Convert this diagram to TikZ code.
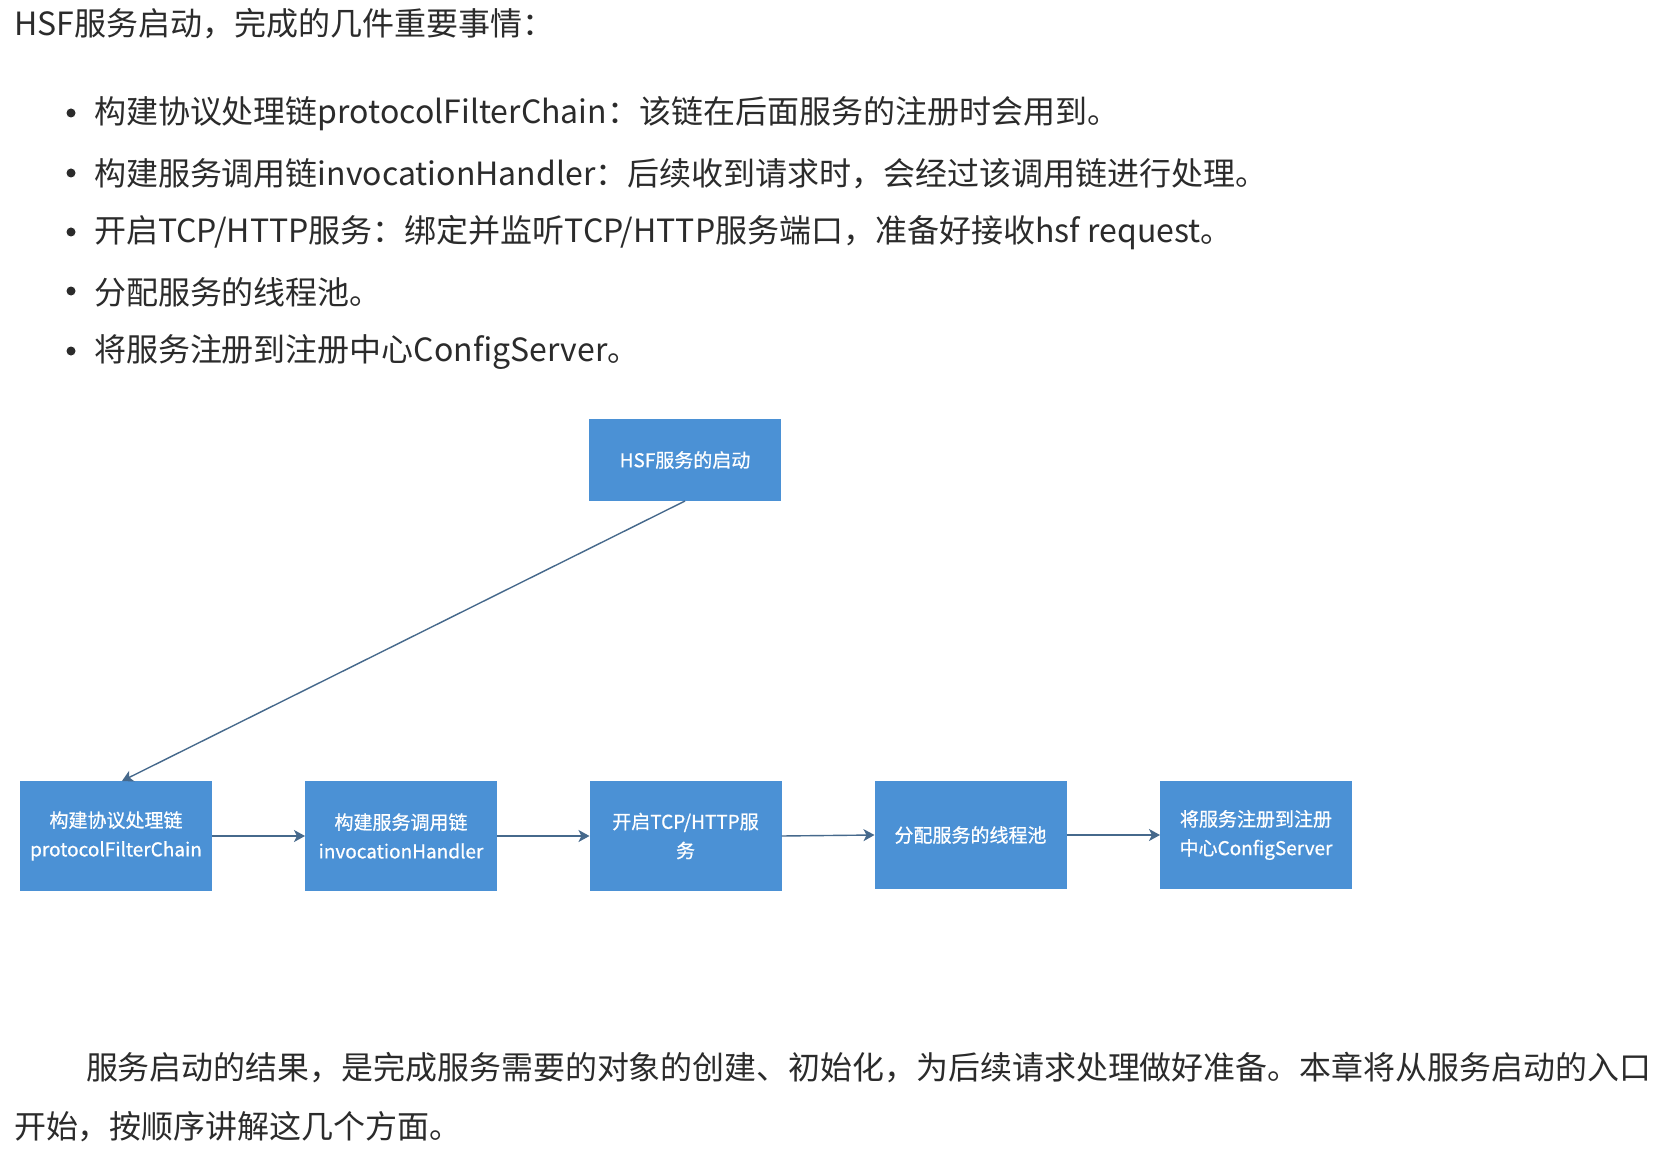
\documentclass[tikz,border=0pt]{standalone}
\usepackage{fontspec}
\usepackage{graphicx}
\setmainfont{Noto Sans CJK SC}
\newfontfamily\boxfont[FakeBold=0.7]{Noto Sans CJK SC}
\usetikzlibrary{arrows.meta}
\definecolor{boxblue}{HTML}{4B91D5}
\definecolor{linec}{HTML}{46698C}
\definecolor{txt}{HTML}{2B2B2B}
\begin{document}
\begin{tikzpicture}[x=0.5pt,y=-0.5pt,
  every node/.style={inner sep=0pt,outer sep=0pt},
  body/.style={anchor=west,font=\fontsize{16pt}{20pt}\selectfont,text=txt},
  box/.style={fill=boxblue,text=white,minimum width=96pt,minimum height=55pt,align=center,font=\boxfont\fontsize{9.5pt}{14.5pt}\selectfont},
  boxs/.style={box,minimum height=54pt},
  conn/.style={draw=linec,line width=0.7pt,-{Stealth[length=5.5pt,width=6pt,inset=1.5pt]}},
  dot/.style={circle,fill=txt,minimum size=4.5pt}]
\fill[white] (0,0) rectangle (1678,1156);
\useasboundingbox (0,0) rectangle (1678,1156);

% text above
\node[body] (title) at (14,24) {HSF服务启动，完成的几件重要事情：};
\node[dot] (d1) at (71,113) {};
\node[dot] (d2) at (71,173) {};
\node[dot] (d3) at (71,232) {};
\node[dot] (d4) at (71,291) {};
\node[dot] (d5) at (71,351) {};
\node[body] (l1) at (94,114) {构建协议处理链protocolFilterChain：该链在后面服务的注册时会用到。};
\node[body] (l2) at (94,174) {构建服务调用链invocationHandler：后续收到请求时，会经过该调用链进行处理。};
\node[body] (l3) at (94,233) {开启TCP/HTTP服务：绑定并监听TCP/HTTP服务端口，准备好接收hsf request。};
\node[body] (l4) at (94,292) {分配服务的线程池。};
\node[body] (l5) at (94,352) {将服务注册到注册中心ConfigServer。};

% diagram
\node[box,minimum height=41pt] (hsf) at (685,460) {HSF服务的启动};
\node[box] (b1) at (116,836) {构建协议处理链\\protocolFilterChain};
\node[box] (b2) at (401,836) {构建服务调用链\\invocationHandler};
\node[box] (b3) at (685.5,836) {开启TCP/HTTP服\\务};
\node[boxs] (b4) at (970.5,835) {分配服务的线程池};
\node[boxs] (b5) at (1256,835) {将服务注册到注册\\中心ConfigServer};

\draw[conn] (hsf.south) -- ([xshift=3pt]b1.north);
\draw[conn] (b1.east) -- (b2.west);
\draw[conn] (b2.east) -- (b3.west);
\draw[conn] (b3.east) -- (b4.west);
\draw[conn] (b4.east) -- (b5.west);

% text below
\node[body] (p1) at (86,1068) {\resizebox{782.5pt}{\height}{服务启动的结果，是完成服务需要的对象的创建、初始化，为后续请求处理做好准备。本章将从服务启动的入口}};
\node[body] (p2) at (14,1127) {开始，按顺序讲解这几个方面。};
\end{tikzpicture}
\end{document}
